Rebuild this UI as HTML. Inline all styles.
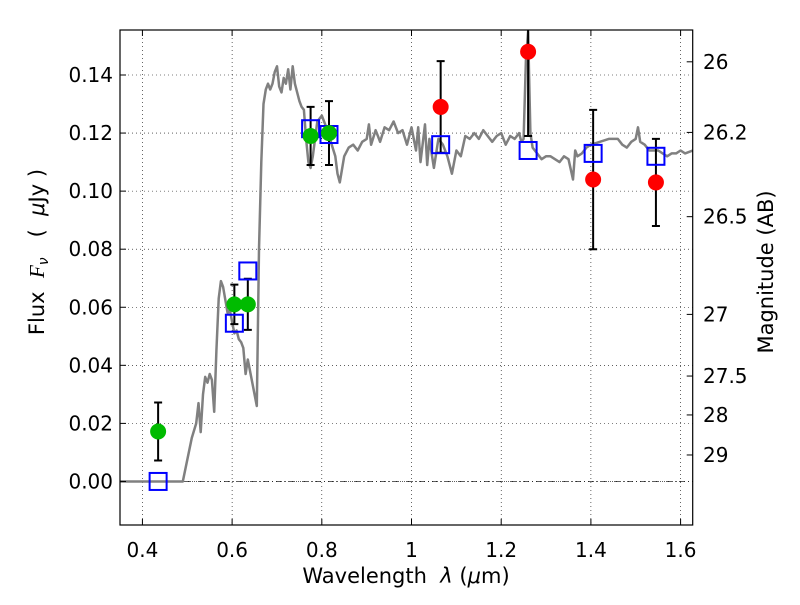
<!DOCTYPE html>
<html><head><meta charset="utf-8"><style>
body{margin:0;background:#fff}
svg text{font-family:"DejaVu Sans","Liberation Sans",sans-serif;fill:#000}
.pre{white-space:pre}
</style></head><body>
<svg id="chart" width="800" height="600" viewBox="0 0 800 600" xmlns="http://www.w3.org/2000/svg">
<defs><clipPath id="plotclip"><rect x="120" y="30" width="572.7" height="495"/></clipPath></defs>
<rect width="800" height="600" fill="#fff"/>
<g id="grid"></g><g id="marks" clip-path="url(#plotclip)"></g><g id="axes"></g>
<text class="pre" x="406" y="583" text-anchor="middle" font-size="21">Wavelength  <tspan font-style="italic">λ</tspan> (<tspan font-style="italic">μ</tspan>m)</text>
<text class="pre" transform="translate(44,252) rotate(-90)" text-anchor="middle" font-size="21">Flux  <tspan font-style="italic" font-family="Liberation Serif, serif">F</tspan><tspan font-style="italic" font-size="14" dy="4">ν</tspan><tspan dy="-4">   (  </tspan><tspan font-style="italic">μ</tspan>Jy )</text>
<text transform="translate(773,272) rotate(-90)" text-anchor="middle" font-size="21">Magnitude (AB)</text>
</svg>
<script>
const specX=[0.35,0.49,0.51,0.52,0.525,0.53,0.535,0.54,0.545,0.55,0.555,0.56,0.565,0.57,0.575,0.58,0.59,0.595,0.60,0.605,0.61,0.615,0.62,0.625,0.63,0.635,0.645,0.655,0.66,0.665,0.67,0.675,0.68,0.685,0.69,0.695,0.70,0.705,0.71,0.715,0.72,0.725,0.73,0.735,0.74,0.75,0.755,0.76,0.765,0.77,0.775,0.78,0.79,0.80,0.81,0.82,0.83,0.835,0.84,0.85,0.86,0.87,0.88,0.89,0.90,0.905,0.91,0.92,0.925,0.93,0.94,0.95,0.96,0.97,0.98,0.99,1.0,1.01,1.015,1.02,1.03,1.035,1.04,1.05,1.06,1.07,1.08,1.09,1.10,1.11,1.12,1.13,1.14,1.15,1.16,1.17,1.18,1.19,1.20,1.21,1.22,1.23,1.24,1.245,1.25,1.255,1.26,1.265,1.27,1.28,1.29,1.30,1.31,1.32,1.33,1.34,1.35,1.36,1.365,1.37,1.38,1.39,1.40,1.42,1.44,1.46,1.47,1.48,1.49,1.50,1.505,1.51,1.52,1.53,1.55,1.56,1.57,1.58,1.59,1.60,1.61,1.627];
const specY=[0,0,0.015,0.02,0.027,0.017,0.03,0.036,0.034,0.037,0.035,0.024,0.045,0.063,0.069,0.067,0.058,0.059,0.055,0.051,0.052,0.049,0.048,0.046,0.037,0.042,0.034,0.026,0.08,0.11,0.13,0.135,0.137,0.135,0.137,0.141,0.143,0.136,0.134,0.139,0.137,0.142,0.135,0.143,0.137,0.131,0.129,0.128,0.118,0.110,0.108,0.112,0.124,0.126,0.122,0.117,0.112,0.106,0.103,0.112,0.115,0.116,0.114,0.117,0.118,0.123,0.116,0.121,0.119,0.117,0.122,0.121,0.124,0.120,0.121,0.116,0.122,0.114,0.122,0.110,0.123,0.109,0.118,0.108,0.118,0.116,0.112,0.106,0.114,0.112,0.119,0.118,0.120,0.118,0.121,0.119,0.117,0.119,0.120,0.116,0.119,0.118,0.120,0.117,0.118,0.145,0.155,0.12,0.115,0.113,0.111,0.112,0.112,0.111,0.110,0.112,0.111,0.104,0.114,0.112,0.113,0.115,0.116,0.117,0.118,0.118,0.116,0.115,0.117,0.118,0.122,0.117,0.116,0.114,0.114,0.113,0.112,0.113,0.113,0.114,0.113,0.114];
const greenX=[0.435,0.605,0.635,0.775,0.816];
const greenY=[0.0172,0.061,0.061,0.119,0.120];
const greenErr=[0.010,0.0068,0.0088,0.010,0.011];
const redX=[1.065,1.26,1.405,1.545];
const redY=[0.129,0.148,0.104,0.103];
const redErr=[0.0158,0.029,0.024,0.015];
const modelX=[0.435,0.605,0.635,0.775,0.816,1.065,1.26,1.405,1.545];
const modelY=[0,0.0545,0.0725,0.1215,0.1195,0.116,0.114,0.113,0.112];
const xTicks=[0.4,0.6,0.8,1.0,1.2,1.4,1.6];
const xTickLabels=["0.4","0.6","0.8","1","1.2","1.4","1.6"];
const yTicks=[0,0.02,0.04,0.06,0.08,0.10,0.12,0.14];
const yTickLabels=["0.00","0.02","0.04","0.06","0.08","0.10","0.12","0.14"];
const magTicks=[26,26.2,26.5,27,27.5,28,29];
const magTickLabels=["26","26.2","26.5","27","27.5","28","29"];

const L=120,R=692.7,T=30,B=525,xmin=0.35,xmax=1.627,ymin=-0.015,ymax=0.1555;
const sx=v=>L+(v-xmin)/(xmax-xmin)*(R-L);
const sy=v=>B-(v-ymin)/(ymax-ymin)*(B-T);
const NS="http://www.w3.org/2000/svg";
function mk(parent,tag,attrs,text){const e=document.createElementNS(NS,tag);for(const k in attrs)e.setAttribute(k,attrs[k]);if(text!==undefined)e.textContent=text;document.getElementById(parent).appendChild(e);return e;}

xTicks.forEach(v=>{const e=mk('grid','line',{x1:sx(v),x2:sx(v),y1:T,y2:B,stroke:'#000','stroke-width':0.6,'stroke-dasharray':'1,3'});

});
yTicks.forEach(v=>{const e=mk('grid','line',{x1:L,x2:R,y1:sy(v),y2:sy(v),stroke:'#000','stroke-width':0.6,'stroke-dasharray':'1,3'});

});
const zl=mk('grid','line',{x1:L,x2:R,y1:sy(0),y2:sy(0),stroke:'#000','stroke-width':0.7,'stroke-dasharray':'6,3,1,3'});



let d=specX.map((x,i)=>(i?'L':'M')+sx(x).toFixed(1)+','+sy(specY[i]).toFixed(1)).join('');
const sp=mk('marks','path',{d:d,fill:'none',stroke:'#808080','stroke-width':2.5,'stroke-linejoin':'round'});



function errbar(x,y,e){const X=sx(x),y1=sy(y+e),y2=sy(y-e);
const g=mk('marks','path',{d:`M${X},${y1}V${y2}M${X-4},${y1}H${X+4}M${X-4},${y2}H${X+4}`,stroke:'#000','stroke-width':2,fill:'none'});

}
greenX.forEach((x,i)=>errbar(x,greenY[i],greenErr[i]));
redX.forEach((x,i)=>errbar(x,redY[i],redErr[i]));
modelX.forEach((x,i)=>{const r=mk('marks','rect',{x:sx(x)-8.5,y:sy(modelY[i])-8.5,width:17,height:17,fill:'none',stroke:'#0000ff','stroke-width':2});

});
greenX.forEach((x,i)=>{const c=mk('marks','circle',{cx:sx(x),cy:sy(greenY[i]),r:8,fill:'#00bb00'});

});
redX.forEach((x,i)=>{const c=mk('marks','circle',{cx:sx(x),cy:sy(redY[i]),r:8,fill:'#ff0000'});

});

const fr=mk('axes','rect',{x:L,y:T,width:R-L,height:B-T,fill:'none',stroke:'#000','stroke-width':1.2});


xTicks.forEach((v,i)=>{mk('axes','path',{d:`M${sx(v)},${B}v-6M${sx(v)},${T}v6`,stroke:'#000'});
const t=mk('axes','text',{x:sx(v),y:557,'text-anchor':'middle','font-size':20},xTickLabels[i]);

});
yTicks.forEach((v,i)=>{mk('axes','path',{d:`M${L},${sy(v)}h6`,stroke:'#000'});
const t=mk('axes','text',{x:113,y:sy(v)+7,'text-anchor':'end','font-size':20},yTickLabels[i]);

});
magTicks.forEach((m,i)=>{const y=sy(Math.pow(10,(23.9-m)/2.5));mk('axes','path',{d:`M${R},${y}h-6`,stroke:'#000'});
const t=mk('axes','text',{x:703,y:y+7,'font-size':20},magTickLabels[i]);

});
</script>
</body></html>
